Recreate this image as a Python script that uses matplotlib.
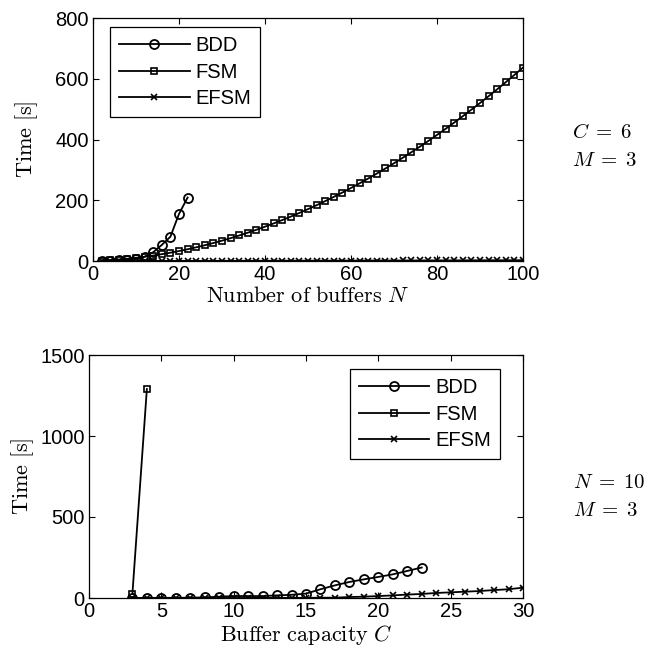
import numpy as np
import matplotlib
matplotlib.use("Agg")
import matplotlib.pyplot as plt

plt.rcParams['font.family'] = ['Liberation Sans', 'DejaVu Sans']
plt.rcParams['mathtext.fontset'] = 'cm'

# top: C = 6, M = 3, varying number of buffers N
n_bdd = [2, 4, 6, 8, 10, 12, 14, 16, 18, 20, 22]
t_bdd_n = [0.5, 1, 2, 3, 7, 14, 29, 53, 80, 155, 209]

n_fsm = list(range(2, 101, 2))
t_fsm_n = [1.2, 2.8, 4.9, 7.5, 10.5, 14.0, 18.0, 22.5, 27.4, 32.8,
           38.7, 45.1, 51.9, 59.2, 67.0, 75.2, 84.0, 93.2, 102.8, 113.0,
           123.6, 134.7, 146.2, 158.3, 170.8, 183.7, 197.2, 211.1, 225.5, 240.4,
           255.7, 271.5, 287.8, 304.6, 321.8, 339.5, 357.7, 376.3, 395.4, 415.0,
           435.1, 455.7, 476.7, 498.2, 520.1, 542.5, 565.4, 588.8, 612.7, 637.0]

n_efsm = list(range(2, 101, 2))
t_efsm_n = [0.1, 0.1, 0.1, 0.2, 0.2, 0.2, 0.3, 0.3, 0.3, 0.4,
            0.4, 0.5, 0.5, 0.5, 0.6, 0.6, 0.7, 0.7, 0.8, 0.8,
            0.9, 0.9, 1.0, 1.0, 1.1, 1.1, 1.2, 1.2, 1.3, 1.3,
            1.4, 1.5, 1.5, 1.6, 1.6, 1.7, 1.8, 1.8, 1.9, 2.0,
            2.0, 2.1, 2.2, 2.2, 2.3, 2.4, 2.4, 2.5, 2.6, 2.7]

# bottom: N = 10, M = 3, varying buffer capacity C
c_bdd = list(range(3, 24))
t_bdd_c = [0, 1, 1, 1, 2, 4, 8, 12, 12, 12, 16, 20, 27, 54, 78, 99, 115, 130, 146, 167, 188]

c_fsm = [3, 4]
t_fsm_c = [25, 1290]

c_efsm = list(range(3, 31))
t_efsm_c = [0, 0, 0, 0, 0, 0, 0, 0, 0, 1, 1, 1, 1, 2, 2, 6, 8, 12, 16, 21,
            25, 31, 35, 39, 43, 49, 54, 64]

W, H = 645, 655
fig = plt.figure(figsize=(W / 100, H / 100), dpi=100)
ax1 = fig.add_axes([93 / W, 1 - 261 / H, 430 / W, 243 / H])
ax2 = fig.add_axes([89 / W, 1 - 598 / H, 434 / W, 243 / H])

lw = 1.3
for ax in (ax1, ax2):
    ax.tick_params(direction='in', top=True, right=True, labelsize=14.5, length=4, width=0.8, pad=3)
    for s in ax.spines.values():
        s.set_linewidth(0.9)

ax1.plot(n_bdd, t_bdd_n, 'k-o', mfc='none', ms=6.5, mew=1.3, lw=lw, label='BDD')
ax1.plot(n_fsm, t_fsm_n, 'k-s', mfc='none', ms=5, mew=1.2, lw=lw, label='FSM')
ax1.plot(n_efsm, t_efsm_n, 'k-x', ms=4, mew=1.2, lw=lw, label='EFSM')
ax1.set_xlim(0, 100)
ax1.set_ylim(0, 800)
ax1.set_xticks([0, 20, 40, 60, 80, 100])
ax1.set_yticks([0, 200, 400, 600, 800])
ax1.set_xlabel(r'$\mathrm{Number\ of\ buffers}\ N$', fontsize=16, labelpad=1)
ax1.set_ylabel(r'$\mathrm{Time\ [s]}$', fontsize=16, labelpad=11)
leg1 = ax1.legend(loc='upper left', bbox_to_anchor=(17 / 430, 1 - 9 / 243), borderaxespad=0,
                  fontsize=14.5, handlelength=3.5, handletextpad=0.3, fancybox=False,
                  edgecolor='k', framealpha=1, labelspacing=0.38, borderpad=0.45)
leg1.get_frame().set_linewidth(0.9)

ax2.plot(c_bdd, t_bdd_c, 'k-o', mfc='none', ms=6.5, mew=1.3, lw=lw, label='BDD')
ax2.plot(c_fsm, t_fsm_c, 'k-s', mfc='none', ms=5, mew=1.2, lw=lw, label='FSM')
ax2.plot(c_efsm, t_efsm_c, 'k-x', ms=4, mew=1.2, lw=lw, label='EFSM')
ax2.set_xlim(0, 30)
ax2.set_ylim(0, 1500)
ax2.set_xticks([0, 5, 10, 15, 20, 25, 30])
ax2.set_yticks([0, 500, 1000, 1500])
ax2.set_xlabel(r'$\mathrm{Buffer\ capacity}\ C$', fontsize=16, labelpad=1)
ax2.set_ylabel(r'$\mathrm{Time\ [s]}$', fontsize=16, labelpad=3)
leg2 = ax2.legend(loc='upper right', bbox_to_anchor=(1 - 23 / 434, 1 - 14 / 243), borderaxespad=0,
                  fontsize=14.5, handlelength=3.5, handletextpad=0.3, fancybox=False,
                  edgecolor='k', framealpha=1, labelspacing=0.38, borderpad=0.45)
leg2.get_frame().set_linewidth(0.9)

fig.text(572 / W, 1 - 133 / H, r'$C\;=\;6$', fontsize=15, va='center')
fig.text(572 / W, 1 - 160 / H, r'$M\;=\;3$', fontsize=15, va='center')
fig.text(573 / W, 1 - 483 / H, r'$N\;=\;10$', fontsize=15, va='center')
fig.text(573 / W, 1 - 510 / H, r'$M\;=\;3$', fontsize=15, va='center')

fig.savefig('out.png', dpi=100)
